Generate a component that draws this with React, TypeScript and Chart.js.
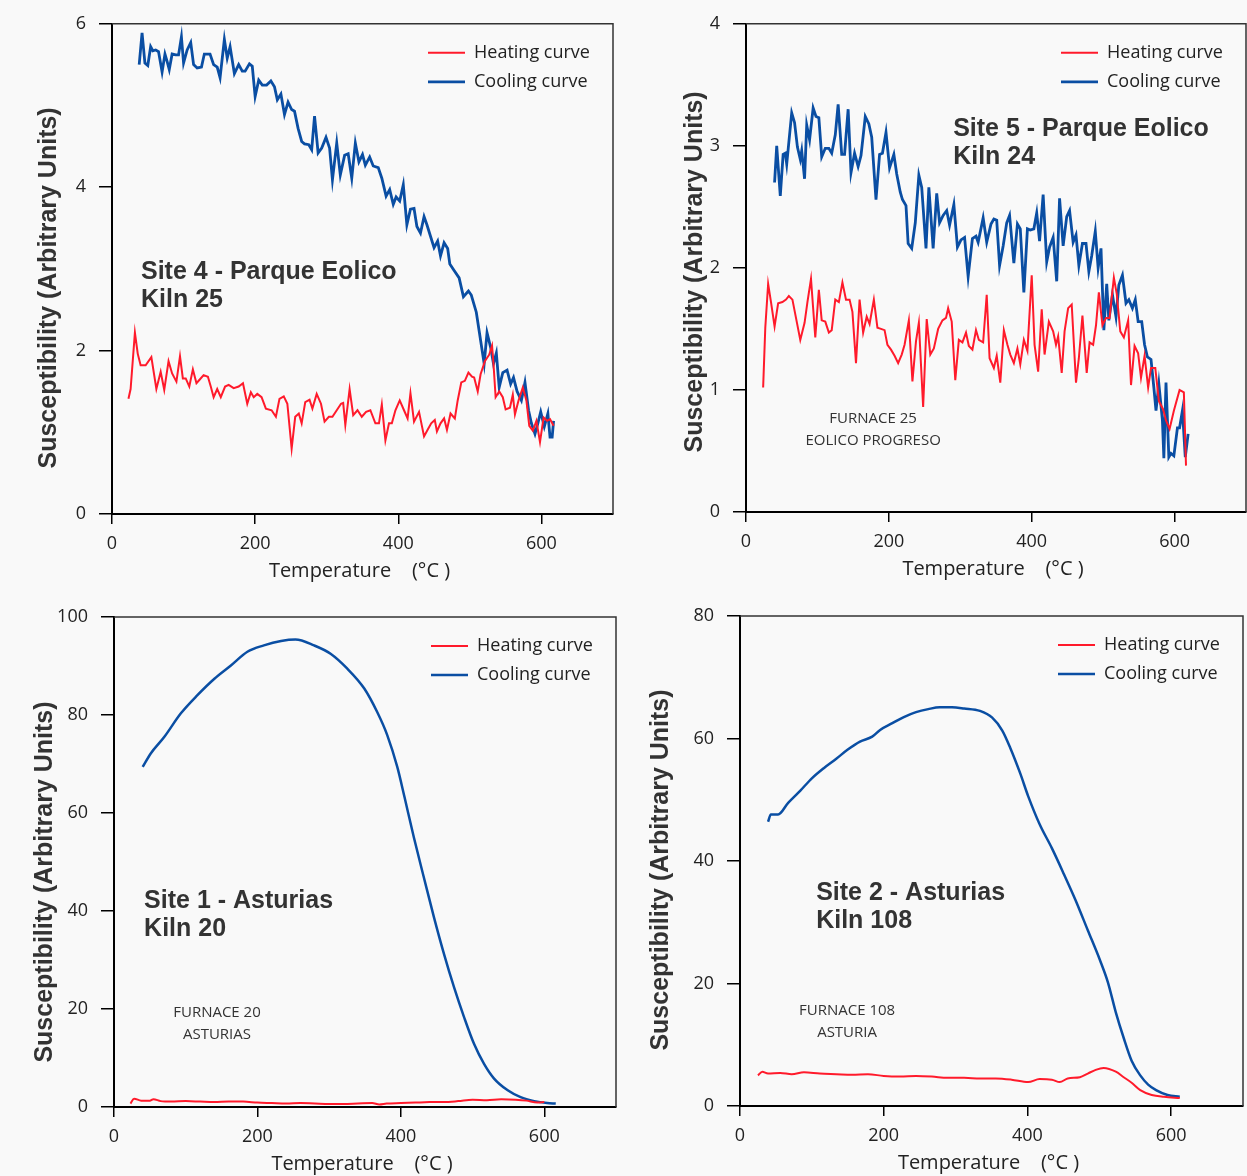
import React, { useEffect, useRef } from "react";
import { Chart, registerables } from "chart.js";

Chart.register(...registerables);

// ---------- shared labels ----------
const X_TICKS = [0, 200, 400, 600];
const X_MAX = 700;
const X_TITLE = "Temperature    (°C )";
const Y_TITLE = "Susceptibility (Arbitrary Units)";
const LEGEND_LABELS = ["Heating curve", "Cooling curve"];
const HEAT_COLOR = "#ff1a2b";
const COOL_COLOR = "#0a4ea3";

// ---------- Site 4 - Parque Eolico, Kiln 25 ----------
const site4YTicks = [0, 2, 4, 6];
const site4HeatT = [23, 26, 32, 36, 40, 47, 55, 62, 68, 73, 79, 84, 90, 95, 99, 103, 108, 113, 118, 122, 128, 134, 138, 142, 147, 152, 158, 163, 170, 177, 183, 189, 194, 198, 203, 209, 215, 223, 229, 234, 240, 245, 251, 256, 261, 265, 270, 276, 280, 286, 292, 297, 303, 308, 314, 320, 323, 326, 332, 337, 343, 349, 355, 361, 368, 373, 377, 382, 387, 391, 396, 402, 408, 413, 417, 422, 429, 436, 441, 446, 451, 454, 459, 464, 468, 473, 479, 483, 488, 493, 498, 503, 506, 511, 515, 521, 527, 531, 533, 536, 541, 546, 550, 556, 560, 563, 568, 574, 579, 583, 588, 593, 598, 603, 608, 612, 617];
const site4HeatV = [1.41, 1.53, 2.22, 1.96, 1.82, 1.82, 1.92, 1.53, 1.74, 1.52, 1.87, 1.72, 1.62, 1.93, 1.66, 1.66, 1.56, 1.77, 1.6, 1.64, 1.7, 1.68, 1.56, 1.43, 1.53, 1.43, 1.56, 1.58, 1.54, 1.56, 1.6, 1.35, 1.49, 1.43, 1.47, 1.43, 1.29, 1.27, 1.19, 1.41, 1.44, 1.35, 0.8, 1.19, 1.23, 1.11, 1.37, 1.4, 1.29, 1.47, 1.35, 1.13, 1.19, 1.19, 1.27, 1.35, 1.36, 1.09, 1.53, 1.21, 1.27, 1.19, 1.25, 1.27, 1.11, 1.11, 1.34, 0.9, 1.11, 1.11, 1.27, 1.39, 1.27, 1.17, 1.48, 1.13, 1.25, 0.95, 1.03, 1.11, 1.15, 1.01, 1.11, 1.17, 1.03, 1.23, 1.17, 1.39, 1.61, 1.63, 1.73, 1.68, 1.67, 1.5, 1.71, 1.87, 1.95, 2.06, 1.84, 1.43, 1.5, 1.43, 1.28, 1.3, 1.46, 1.22, 1.39, 1.55, 1.39, 1.08, 1.02, 1.14, 0.88, 1.18, 1.14, 1.16, 1.08];
const site4CoolT = [38, 42, 46, 50, 54, 57, 61, 65, 70, 74, 77, 80, 84, 89, 93, 97, 100, 105, 110, 114, 119, 125, 129, 137, 142, 147, 151, 157, 161, 165, 171, 177, 182, 186, 192, 196, 200, 205, 210, 216, 222, 227, 231, 236, 241, 246, 251, 255, 260, 265, 269, 275, 279, 283, 288, 293, 299, 304, 308, 314, 319, 325, 330, 335, 340, 345, 350, 354, 360, 365, 372, 377, 383, 388, 393, 397, 402, 407, 412, 417, 422, 426, 431, 436, 440, 445, 450, 455, 459, 464, 469, 472, 478, 485, 491, 498, 502, 509, 513, 520, 524, 529, 533, 537, 541, 546, 552, 557, 561, 566, 572, 577, 582, 586, 591, 595, 599, 604, 609, 612, 615, 617];
const site4CoolV = [5.5, 5.89, 5.52, 5.49, 5.72, 5.67, 5.68, 5.66, 5.41, 5.63, 5.54, 5.44, 5.63, 5.62, 5.62, 5.84, 5.52, 5.68, 5.77, 5.5, 5.46, 5.47, 5.63, 5.63, 5.5, 5.47, 5.34, 5.81, 5.58, 5.72, 5.39, 5.5, 5.42, 5.42, 5.51, 5.48, 5.11, 5.31, 5.25, 5.25, 5.3, 5.23, 5.07, 5.14, 4.89, 5.04, 4.95, 4.93, 4.72, 4.56, 4.53, 4.52, 4.46, 4.87, 4.42, 4.48, 4.61, 4.48, 4.09, 4.54, 4.15, 4.39, 4.41, 4.11, 4.54, 4.31, 4.4, 4.27, 4.37, 4.26, 4.24, 4.11, 3.89, 3.97, 3.79, 3.88, 3.83, 4.03, 3.54, 3.73, 3.74, 3.52, 3.44, 3.64, 3.54, 3.4, 3.26, 3.34, 3.16, 3.32, 3.25, 3.06, 2.98, 2.89, 2.66, 2.73, 2.68, 2.47, 2.24, 1.84, 2.22, 2.04, 1.84, 1.97, 1.55, 1.73, 1.76, 1.59, 1.67, 1.5, 1.39, 1.61, 1.27, 1.11, 0.98, 1.11, 1.25, 1.07, 1.23, 0.94, 0.94, 1.14];

// ---------- Site 5 - Parque Eolico, Kiln 24 ----------
const site5YTicks = [0, 1, 2, 3, 4];
const site5HeatT = [24, 27, 31, 35, 40, 45, 51, 56, 60, 65, 71, 76, 82, 86, 91, 97, 102, 106, 111, 116, 120, 125, 130, 135, 140, 145, 149, 154, 159, 164, 169, 173, 179, 184, 189, 194, 198, 203, 208, 213, 218, 222, 228, 233, 238, 242, 248, 253, 258, 263, 269, 275, 280, 283, 288, 293, 298, 303, 308, 312, 317, 322, 326, 332, 337, 341, 347, 351, 356, 361, 366, 370, 375, 380, 384, 389, 394, 400, 404, 409, 414, 418, 424, 430, 434, 437, 442, 446, 451, 456, 462, 466, 471, 477, 481, 486, 490, 494, 499, 504, 509, 515, 519, 524, 529, 535, 539, 544, 549, 553, 558, 563, 567, 573, 578, 584, 588, 593, 599, 607, 613, 616];
const site5HeatV = [1.02, 1.51, 1.87, 1.72, 1.52, 1.71, 1.72, 1.74, 1.77, 1.74, 1.56, 1.41, 1.55, 1.72, 1.91, 1.43, 1.82, 1.57, 1.56, 1.47, 1.49, 1.74, 1.72, 1.88, 1.74, 1.74, 1.64, 1.22, 1.74, 1.47, 1.6, 1.54, 1.74, 1.51, 1.5, 1.49, 1.37, 1.33, 1.28, 1.22, 1.29, 1.37, 1.57, 1.07, 1.4, 1.55, 0.86, 1.58, 1.29, 1.34, 1.5, 1.57, 1.59, 1.67, 1.56, 1.08, 1.41, 1.39, 1.47, 1.36, 1.33, 1.49, 1.41, 1.39, 1.78, 1.26, 1.18, 1.28, 1.06, 1.49, 1.37, 1.29, 1.22, 1.34, 1.21, 1.41, 1.32, 1.94, 1.37, 1.15, 1.66, 1.29, 1.56, 1.48, 1.37, 1.44, 1.14, 1.48, 1.67, 1.7, 1.06, 1.26, 1.61, 1.14, 1.39, 1.37, 1.53, 1.8, 1.53, 1.59, 1.59, 1.92, 1.79, 1.48, 1.43, 1.57, 1.04, 1.36, 1.3, 1.1, 1.28, 1.02, 1.18, 1.18, 0.91, 0.84, 0.75, 0.68, 0.83, 1.0, 0.98, 0.38];
const site5CoolT = [40, 43, 48, 52, 55, 57, 64, 68, 72, 76, 78, 82, 85, 89, 94, 98, 102, 106, 111, 116, 120, 125, 129, 134, 138, 143, 147, 152, 157, 161, 167, 172, 176, 182, 187, 191, 196, 201, 207, 211, 216, 219, 224, 227, 232, 237, 242, 246, 252, 256, 262, 267, 271, 276, 281, 285, 291, 296, 301, 306, 311, 317, 322, 325, 332, 337, 343, 347, 351, 355, 360, 365, 369, 375, 380, 384, 389, 394, 398, 403, 407, 411, 416, 421, 425, 430, 435, 439, 444, 449, 453, 458, 462, 466, 471, 476, 480, 484, 489, 493, 497, 501, 505, 508, 513, 518, 522, 527, 532, 536, 541, 545, 549, 554, 558, 562, 567, 571, 574, 578, 583, 585, 588, 592, 595, 599, 604, 607, 611, 615, 619];
const site5CoolV = [2.7, 3.0, 2.59, 2.93, 2.94, 2.85, 3.27, 3.19, 2.99, 2.89, 2.96, 2.73, 3.17, 3.05, 3.31, 3.24, 3.23, 2.91, 2.98, 2.98, 2.94, 3.09, 3.34, 2.93, 2.93, 3.3, 2.78, 2.94, 2.83, 2.92, 3.24, 3.18, 3.07, 2.56, 2.93, 2.94, 3.11, 2.82, 2.93, 2.77, 2.62, 2.56, 2.51, 2.2, 2.16, 2.37, 2.76, 2.66, 2.16, 2.66, 2.16, 2.61, 2.37, 2.43, 2.47, 2.35, 2.52, 2.17, 2.23, 2.25, 1.93, 2.24, 2.26, 2.21, 2.41, 2.21, 2.36, 2.4, 2.39, 2.02, 2.18, 2.37, 2.43, 2.04, 2.36, 2.32, 1.8, 2.32, 2.31, 2.32, 2.45, 2.22, 2.6, 2.05, 2.17, 2.25, 1.89, 2.57, 2.18, 2.42, 2.47, 2.21, 2.27, 2.02, 2.2, 2.2, 1.97, 2.1, 2.3, 2.0, 2.16, 1.49, 1.87, 1.57, 1.78, 1.6, 1.86, 1.94, 1.71, 1.74, 1.67, 1.74, 1.56, 1.56, 1.37, 1.27, 1.25, 1.02, 0.83, 1.05, 0.75, 0.44, 1.06, 0.45, 0.48, 0.46, 0.69, 0.69, 0.83, 0.45, 0.64];

// ---------- Site 1 - Asturias, Kiln 20 ----------
const site1YTicks = [0, 20, 40, 60, 80, 100];
const site1HeatT = [23, 28, 38, 50, 55, 65, 80, 100, 120, 140, 160, 180, 200, 220, 240, 260, 280, 300, 320, 340, 360, 370, 380, 400, 420, 440, 460, 480, 500, 520, 540, 560, 575, 590, 600];
const site1HeatV = [0.7, 1.7, 1.3, 1.3, 1.6, 1.2, 1.1, 1.2, 1.1, 1.0, 1.1, 1.1, 0.9, 0.8, 0.7, 0.8, 0.7, 0.6, 0.6, 0.7, 0.8, 0.5, 0.7, 0.8, 0.9, 1.0, 1.0, 1.2, 1.5, 1.4, 1.6, 1.5, 1.3, 0.9, 1.0];
const site1CoolT = [40, 51, 70, 93, 116, 140, 163, 186, 209, 233, 253, 279, 302, 325, 349, 367, 381, 395, 405, 418, 432, 446, 460, 474, 488, 502, 516, 530, 549, 567, 586, 604, 616];
const site1CoolV = [69.4, 72.1, 75.5, 80.3, 84.0, 87.4, 90.1, 92.9, 94.2, 95.1, 95.4, 94.2, 92.5, 89.5, 85.4, 80.6, 75.9, 69.4, 63.3, 55.1, 46.9, 38.8, 31.3, 24.5, 18.4, 12.9, 8.8, 5.8, 3.4, 2.0, 1.2, 0.8, 0.7];

// ---------- Site 2 - Asturias, Kiln 108 ----------
const site2YTicks = [0, 20, 40, 60, 80];
const site2HeatT = [25, 31, 39, 56, 72, 89, 111, 134, 156, 178, 200, 223, 245, 267, 289, 312, 334, 356, 378, 401, 417, 434, 445, 456, 473, 484, 495, 506, 523, 534, 545, 557, 573, 590, 612];
const site2HeatV = [5.0, 5.6, 5.3, 5.4, 5.2, 5.5, 5.3, 5.2, 5.1, 5.2, 4.9, 4.8, 4.9, 4.8, 4.6, 4.6, 4.5, 4.5, 4.3, 3.9, 4.4, 4.3, 3.9, 4.5, 4.7, 5.3, 5.9, 6.2, 5.6, 4.7, 3.8, 2.6, 1.8, 1.5, 1.3];
const site2CoolT = [39, 43, 53, 67, 84, 100, 117, 134, 150, 167, 184, 195, 212, 228, 245, 262, 278, 295, 312, 334, 351, 365, 376, 390, 401, 417, 434, 451, 467, 484, 501, 512, 523, 534, 545, 557, 568, 579, 595, 612];
const site2CoolV = [46.4, 47.6, 47.6, 49.5, 51.5, 53.5, 55.2, 56.7, 58.2, 59.5, 60.3, 61.4, 62.5, 63.5, 64.3, 64.8, 65.1, 65.1, 64.9, 64.5, 63.4, 61.3, 58.5, 54.3, 50.6, 46.0, 42.1, 37.8, 33.6, 28.7, 23.8, 20.2, 15.3, 11.1, 7.4, 5.0, 3.5, 2.6, 1.8, 1.5];

type Panel = {
  box: { left: number; top: number; width: number; height: number };
  area: { left: number; top: number; right: number; bottom: number };
  yTicks: number[];
  heatT: number[]; heatV: number[]; coolT: number[]; coolV: number[];
  smooth: boolean;
  coolWidth: number;
  site: string[]; siteAt: { x: number; y: number };
  furnace?: string[]; furnaceAt?: { x: number; y: number };
  yTitleDx: number; yTitleDy: number;
};

const PANELS: Panel[] = [
  {
    box: { left: 0, top: 0, width: 623, height: 590 },
    area: { left: 112, top: 22, right: 613, bottom: 514 },
    yTicks: site4YTicks,
    heatT: site4HeatT, heatV: site4HeatV, coolT: site4CoolT, coolV: site4CoolV,
    smooth: false, coolWidth: 2.8,
    site: ["Site 4 - Parque Eolico", "Kiln 25"], siteAt: { x: 40.5, y: 2.96 },
    yTitleDx: -63, yTitleDy: 19,
  },
  {
    box: { left: 623, top: 0, width: 624, height: 590 },
    area: { left: 123, top: 20, right: 623, bottom: 512 },
    yTicks: site5YTicks,
    heatT: site5HeatT, heatV: site5HeatV, coolT: site5CoolT, coolV: site5CoolV,
    smooth: false, coolWidth: 2.8,
    site: ["Site 5 - Parque Eolico", "Kiln 24"], siteAt: { x: 290, y: 3.14 },
    furnace: ["FURNACE 25", "EOLICO PROGRESO"], furnaceAt: { x: 178, y: 0.764 },
    yTitleDx: -51, yTitleDy: 4,
  },
  {
    box: { left: 0, top: 590, width: 623, height: 586 },
    area: { left: 114, top: 27, right: 616, bottom: 517 },
    yTicks: site1YTicks,
    heatT: site1HeatT, heatV: site1HeatV, coolT: site1CoolT, coolV: site1CoolV,
    smooth: true, coolWidth: 2.5,
    site: ["Site 1 - Asturias", "Kiln 20"], siteAt: { x: 42, y: 42.0 },
    furnace: ["FURNACE 20", "ASTURIAS"], furnaceAt: { x: 143.6, y: 19.2 },
    yTitleDx: -68.5, yTitleDy: 20,
  },
  {
    box: { left: 623, top: 590, width: 624, height: 586 },
    area: { left: 117, top: 26, right: 620, bottom: 516 },
    yTicks: site2YTicks,
    heatT: site2HeatT, heatV: site2HeatV, coolT: site2CoolT, coolV: site2CoolV,
    smooth: true, coolWidth: 2.5,
    site: ["Site 2 - Asturias", "Kiln 108"], siteAt: { x: 106, y: 34.8 },
    furnace: ["FURNACE 108", "ASTURIA"], furnaceAt: { x: 149, y: 15.5 },
    yTitleDx: -79, yTitleDy: 9,
  },
];

const TICK_FONT = { family: "'Open Sans', sans-serif", size: 18 };

function toPoints(xs: number[], ys: number[]) {
  return xs.map((x, i) => ({ x, y: ys[i] }));
}

function PanelChart({ p }: { p: Panel }) {
  const ref = useRef<HTMLCanvasElement | null>(null);
  useEffect(() => {
    if (!ref.current) return;
    const decor = {
      id: "decor",
      beforeDraw(chart: any) {
        const ctx = chart.ctx;
        ctx.save();
        ctx.fillStyle = "#f9f9f9";
        ctx.fillRect(0, 0, chart.width, chart.height);
        ctx.restore();
      },
      afterDraw(chart: any) {
        const ctx = chart.ctx;
        const a = chart.chartArea;
        const xs = chart.scales.x;
        const ys = chart.scales.y;
        ctx.save();
        // frame (top/right)
        ctx.strokeStyle = "#333";
        ctx.lineWidth = 1.5;
        ctx.beginPath();
        ctx.moveTo(a.left, a.top);
        ctx.lineTo(a.right, a.top);
        ctx.lineTo(a.right, a.bottom);
        ctx.stroke();
        // legend
        chart.data.datasets.forEach((ds: any, i: number) => {
          const y = a.top + 29 + 29 * i;
          ctx.strokeStyle = ds.borderColor;
          ctx.lineWidth = ds.borderWidth;
          ctx.beginPath();
          ctx.moveTo(a.right - 185, y);
          ctx.lineTo(a.right - 148, y);
          ctx.stroke();
          ctx.fillStyle = "#222";
          ctx.font = "18px 'Open Sans', sans-serif";
          ctx.textAlign = "left";
          ctx.textBaseline = "middle";
          ctx.fillText(ds.label, a.right - 139, y);
        });
        // site label
        ctx.fillStyle = "#333";
        ctx.font = "bold 25px 'Liberation Sans', Arial, sans-serif";
        ctx.textAlign = "left";
        ctx.textBaseline = "middle";
        const sx = xs.getPixelForValue(p.siteAt.x);
        const sy = ys.getPixelForValue(p.siteAt.y);
        p.site.forEach((t, i) => ctx.fillText(t, sx, sy + i * 28));
        // furnace label
        if (p.furnace && p.furnaceAt) {
          ctx.font = "15px 'Open Sans', sans-serif";
          ctx.textAlign = "center";
          ctx.fillStyle = "#333";
          const fx = xs.getPixelForValue(p.furnaceAt.x);
          const fy = ys.getPixelForValue(p.furnaceAt.y);
          p.furnace.forEach((t, i) => ctx.fillText(t, fx, fy + i * 22));
        }
        // x title
        ctx.fillStyle = "#222";
        ctx.font = "20px 'Open Sans', sans-serif";
        ctx.textAlign = "center";
        ctx.textBaseline = "middle";
        ctx.fillText(X_TITLE, (a.left + a.right) / 2 - 3, a.bottom + 57);
        // y title
        ctx.translate(a.left + p.yTitleDx, (a.top + a.bottom) / 2 + p.yTitleDy);
        ctx.rotate(-Math.PI / 2);
        ctx.fillStyle = "#333";
        ctx.font = "bold 25px 'Liberation Sans', Arial, sans-serif";
        ctx.fillText(Y_TITLE, 0, 0);
        ctx.restore();
      },
    };

    const yMax = p.yTicks[p.yTicks.length - 1];
    const chart = new Chart(ref.current, {
      type: "line",
      data: {
        datasets: [
          {
            label: LEGEND_LABELS[0],
            data: toPoints(p.heatT, p.heatV),
            borderColor: HEAT_COLOR,
            borderWidth: 2,
            pointRadius: 0,
            cubicInterpolationMode: p.smooth ? "monotone" : "default",
            tension: 0,
          },
          {
            label: LEGEND_LABELS[1],
            data: toPoints(p.coolT, p.coolV),
            borderColor: COOL_COLOR,
            borderWidth: p.coolWidth,
            pointRadius: 0,
            cubicInterpolationMode: p.smooth ? "monotone" : "default",
            tension: 0,
          },
        ],
      },
      options: {
        responsive: false,
        animation: false,
        events: [],
        layout: {
          padding: { left: 0, top: p.area.top, right: p.box.width - p.area.right, bottom: 0 },
        },
        plugins: { legend: { display: false }, tooltip: { enabled: false }, title: { display: false } },
        scales: {
          x: {
            type: "linear",
            min: 0,
            max: X_MAX,
            afterBuildTicks: (s: any) => {
              s.ticks = X_TICKS.map((v) => ({ value: v }));
            },
            afterFit: (s: any) => {
              s.height = p.box.height - p.area.bottom;
            },
            grid: { drawOnChartArea: false, drawTicks: true, tickLength: 10, color: "#000", lineWidth: 1.5 },
            border: { display: true, color: "#000", width: 2 },
            ticks: { padding: 9, color: "#222", font: TICK_FONT, maxRotation: 0, autoSkip: false },
          },
          y: {
            type: "linear",
            min: 0,
            max: yMax,
            afterBuildTicks: (s: any) => {
              s.ticks = p.yTicks.map((v) => ({ value: v }));
            },
            afterFit: (s: any) => {
              s.width = p.area.left;
            },
            grid: { drawOnChartArea: false, drawTicks: true, tickLength: 13, color: "#000", lineWidth: 1.5 },
            border: { display: true, color: "#000", width: 2 },
            ticks: { padding: 13, color: "#222", font: TICK_FONT, autoSkip: false },
          },
        },
      },
      plugins: [decor],
    } as any);
    return () => chart.destroy();
  }, [p]);

  return (
    <canvas
      ref={ref}
      width={p.box.width}
      height={p.box.height}
      style={{
        position: "absolute",
        left: p.box.left,
        top: p.box.top,
        width: p.box.width,
        height: p.box.height,
      }}
    />
  );
}

export default function App() {
  return (
    <div
      style={{
        position: "absolute",
        left: 0,
        top: 0,
        width: 1247,
        height: 1176,
        background: "#f9f9f9",
        overflow: "hidden",
      }}
    >
      {PANELS.map((p, i) => (
        <PanelChart key={i} p={p} />
      ))}
    </div>
  );
}
